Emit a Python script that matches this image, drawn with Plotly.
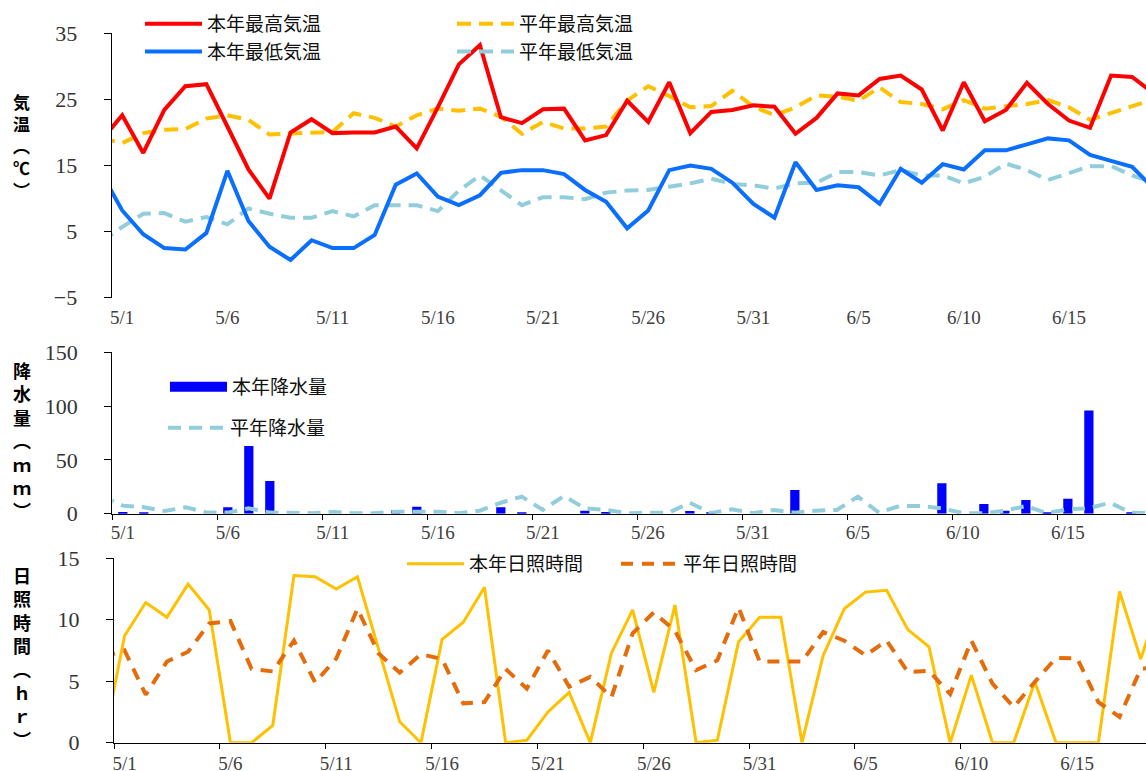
import pandas as pd
import plotly.graph_objects as go

YEAR = 2024
# daily values from 4/30 to 6/19 (4/30 and 6/19 only partly visible at the edges)
days = pd.date_range(f"{YEAR}-04-30", f"{YEAR}-06-19") + pd.Timedelta(hours=12)

high_this = [18.8,
             22.6, 16.9, 23.4, 27.0, 27.3, 20.9, 14.4, 10.0, 20.0, 22.0,
             19.9, 20.0, 20.0, 20.9, 17.6, 23.8, 30.3, 33.2, 22.3, 21.4,
             23.5, 23.6, 18.8, 19.6, 24.8, 21.6, 27.6, 19.9, 23.1, 23.4,
             24.1, 23.9, 19.8, 22.2, 25.9, 25.6, 28.1, 28.6, 26.5, 20.3,
             27.6, 21.7, 23.4, 27.5, 24.3, 21.8, 20.7, 28.6, 28.4, 26.0]
low_this = [13.9,
            8.2, 4.6, 2.5, 2.3, 4.8, 14.2, 6.6, 2.7, 0.7, 3.7,
            2.5, 2.5, 4.5, 12.1, 13.8, 10.3, 9.0, 10.5, 13.9, 14.3,
            14.3, 13.7, 11.3, 9.5, 5.5, 8.2, 14.3, 15.0, 14.5, 12.4,
            9.2, 7.1, 15.5, 11.3, 12.0, 11.7, 9.2, 14.5, 12.4, 15.2,
            14.4, 17.3, 17.3, 18.2, 19.1, 18.8, 16.6, 15.7, 14.8, 11.6]
high_normal = [19.1,
               18.4, 19.9, 20.4, 20.5, 22.1, 22.6, 21.9, 19.7, 19.8, 19.9,
               20.1, 22.9, 22.2, 20.9, 22.6, 23.6, 23.3, 23.6, 22.4, 19.8,
               21.6, 20.6, 20.6, 20.9, 24.8, 27.0, 25.5, 23.8, 24.0, 26.3,
               23.9, 22.6, 23.8, 25.6, 25.4, 24.8, 26.8, 24.6, 24.3, 23.5,
               24.9, 23.6, 24.0, 24.3, 24.9, 23.8, 21.9, 22.9, 23.9, 25.0]
low_normal = [3.5,
              5.7, 7.7, 7.8, 6.5, 7.2, 6.1, 8.5, 7.7, 7.1, 7.1,
              8.1, 7.3, 9.0, 9.0, 9.0, 8.1, 11.2, 13.5, 11.2, 9.0,
              10.2, 10.2, 9.9, 10.9, 11.2, 11.3, 11.8, 12.3, 13.0, 12.2,
              12.0, 11.5, 12.3, 12.4, 14.0, 14.0, 13.5, 14.3, 13.5, 13.5,
              12.3, 13.3, 15.3, 14.3, 12.8, 13.8, 14.9, 14.9, 13.5, 12.4]
precip_this = [0,
               1.5, 1.0, 0, 0, 0, 5.9, 63.0, 30.4, 0, 0,
               0, 0, 0, 3.4, 6.5, 0, 0, 0, 5.9, 1.0,
               0, 0, 2.8, 1.5, 0, 0, 0, 2.5, 1.0, 0,
               0, 0, 22.0, 0, 0, 0, 0, 0, 0, 28.2,
               0, 9.0, 2.8, 12.7, 1.0, 14.0, 95.9, 0, 1.0, 0]
precip_normal = [16.0,
                 7.5, 6.0, 2.5, 6.0, 1.0, 1.0, 5.0, 1.0, 0.5, 0.5,
                 1.6, 0.5, 0.5, 1.8, 1.8, 1.8, 0.5, 2.8, 10.2, 15.9,
                 3.5, 16.5, 5.0, 3.5, 0.5, 0.5, 1.0, 10.2, 0.5, 4.1,
                 0.5, 3.5, 1.0, 2.8, 3.5, 15.9, 1.0, 7.2, 7.2, 5.0,
                 0.5, 0.5, 2.8, 7.2, 0.5, 4.1, 5.0, 10.2, 1.0, 0.5]
sun_this = [0,
            8.7, 11.4, 10.2, 12.9, 10.8, 0, 0, 1.4, 13.6, 13.5,
            12.5, 13.5, 7.7, 1.7, 0, 8.4, 9.8, 12.65, 0, 0.2,
            2.5, 4.1, 0, 7.3, 10.8, 4.1, 11.2, 0, 0.2, 8.2,
            10.2, 10.2, 0, 7.1, 10.9, 12.25, 12.4, 9.2, 7.8, 0,
            5.5, 0, 0, 4.95, 0, 0, 0, 12.3, 6.8, 12.0]
sun_normal = [7.0,
              7.5, 3.9, 6.6, 7.4, 9.7, 9.9, 6.0, 5.8, 8.3, 4.9,
              6.85, 10.9, 7.25, 5.7, 7.2, 6.8, 3.2, 3.3, 6.0, 4.4,
              7.5, 4.55, 5.35, 3.7, 8.9, 10.6, 9.1, 5.9, 6.7, 11.0,
              6.6, 6.6, 6.6, 9.0, 8.3, 7.1, 8.3, 5.75, 5.85, 3.95,
              8.3, 4.8, 2.9, 4.95, 6.9, 6.85, 3.3, 2.1, 6.0, 6.2]

tick_labels = ["5/1", "5/6", "5/11", "5/16", "5/21", "5/26", "5/31", "6/5", "6/10", "6/15"]
temp_ticks = [-5, 5, 15, 25, 35]
precip_ticks = [0, 50, 100, 150]
sun_ticks = [0, 5, 10, 15]

tick_days = [pd.Timestamp(f"{YEAR}/{t}") for t in tick_labels]
tick_noon = [d + pd.Timedelta(hours=12) for d in tick_days]
start = pd.Timestamp(f"{YEAR}-05-01")

W, H = 1146, 771
SERIF = "Liberation Serif"
JP = "Noto Sans CJK JP"

fig = go.Figure()

# --- temperature panel ---
fig.add_trace(go.Scatter(x=days, y=high_normal, name="平年最高気温", mode="lines",
                         line=dict(color="#FFC000", width=4, dash="14px,8px"),
                         xaxis="x", yaxis="y", legend="legend2"))
fig.add_trace(go.Scatter(x=days, y=low_normal, name="平年最低気温", mode="lines",
                         line=dict(color="#92CDDC", width=4, dash="14px,8px"),
                         xaxis="x", yaxis="y", legend="legend2"))
fig.add_trace(go.Scatter(x=days, y=high_this, name="本年最高気温", mode="lines",
                         line=dict(color="#FF0000", width=4),
                         xaxis="x", yaxis="y", legend="legend"))
fig.add_trace(go.Scatter(x=days, y=low_this, name="本年最低気温", mode="lines",
                         line=dict(color="#0A6EFF", width=4),
                         xaxis="x", yaxis="y", legend="legend"))

# --- precipitation panel ---
fig.add_trace(go.Bar(x=days, y=precip_this, name="本年降水量", marker=dict(color="#0000FF", line=dict(width=0)),
                     width=0.44 * 86400000, xaxis="x2", yaxis="y2", showlegend=False))
fig.add_trace(go.Scatter(x=[None], y=[None], name="本年降水量", mode="lines",
                         line=dict(color="#0000FF", width=11), xaxis="x2", yaxis="y2", legend="legend3"))
fig.add_trace(go.Scatter(x=days, y=precip_normal, name="平年降水量", mode="lines",
                         line=dict(color="#92CDDC", width=4, dash="13px,8px"),
                         xaxis="x2", yaxis="y2", legend="legend4"))

# --- sunshine panel ---
fig.add_trace(go.Scatter(x=days, y=sun_this, name="本年日照時間", mode="lines",
                         line=dict(color="#FFC000", width=3),
                         xaxis="x3", yaxis="y3", legend="legend5"))
fig.add_trace(go.Scatter(x=days, y=sun_normal, name="平年日照時間", mode="lines",
                         line=dict(color="#E46C0A", width=4, dash="12px,9px"),
                         xaxis="x3", yaxis="y3", legend="legend5"))

def xrange(ndays):
    return [start, start + pd.Timedelta(days=ndays)]

label_font = dict(family=SERIF, size=19, color="#404040")
ytick_font = dict(family=SERIF, size=22, color="#333333")

common_x = dict(type="date", tickmode="array", tickvals=tick_noon, ticktext=tick_labels,
                tickfont=label_font, showgrid=False, zeroline=False, ticks="", automargin=False)
common_y = dict(showgrid=False, zeroline=False, showline=True, linecolor="black", linewidth=1.3,
                ticks="outside", ticklen=7, tickcolor="black", tickwidth=1.3, tickfont=ytick_font,
                ticklabelstandoff=22, tickmode="array", automargin=False)

legend_common = dict(font=dict(family=JP, size=19, color="#111111"), bgcolor="rgba(0,0,0,0)",
                     borderwidth=0, xanchor="left", yanchor="top", itemwidth=57, tracegroupgap=0)

fig.update_layout(
    width=W, height=H, margin=dict(l=0, r=0, t=0, b=0, autoexpand=False),
    paper_bgcolor="white", plot_bgcolor="white",
    xaxis=dict(common_x, domain=[111.7 / W, 1], anchor="y", range=xrange(49.16), showline=False,
               ticklabelstandoff=6),
    xaxis4=dict(type="date", domain=[111.7 / W, 1], overlaying="x", anchor="free", position=1 - 265 / H,
                range=xrange(49.16), showline=True, linecolor="black", linewidth=1.3,
                ticks="outside", ticklen=5, tickcolor="black", tickwidth=1.3,
                tickmode="array", tickvals=tick_days, showticklabels=False, showgrid=False),
    yaxis=dict(common_y, domain=[1 - 297.7 / H, 1 - 33.3 / H], anchor="x", range=[-5, 35], tickvals=temp_ticks),
    xaxis2=dict(common_x, domain=[112.3 / W, 1], anchor="y2", range=xrange(49.22), showline=True,
                linecolor="black", linewidth=1.3, ticklabelstandoff=1,
                minor=dict(tickmode="array", tickvals=tick_days, ticks="outside", ticklen=5,
                           tickcolor="black", tickwidth=1.3, showgrid=False)),
    yaxis2=dict(common_y, domain=[1 - 513.7 / H, 1 - 352.3 / H], anchor="x2", range=[0, 150], tickvals=precip_ticks),
    xaxis3=dict(common_x, domain=[114 / W, 1], anchor="y3", range=xrange(48.75), showline=True,
                linecolor="black", linewidth=1.3, ticklabelstandoff=3,
                minor=dict(tickmode="array", tickvals=tick_days, ticks="outside", ticklen=5,
                           tickcolor="black", tickwidth=1.3, showgrid=False)),
    yaxis3=dict(common_y, domain=[1 - 742.7 / H, 1 - 558.3 / H], anchor="x3", range=[0, 15], tickvals=sun_ticks),
    legend=dict(legend_common, x=140 / W, y=1 - 5 / H),
    legend2=dict(legend_common, x=452 / W, y=1 - 5 / H),
    legend3=dict(legend_common, x=165 / W, y=1 - 368 / H),
    legend4=dict(legend_common, x=163 / W, y=1 - 409 / H),
    legend5=dict(legend_common, x=402 / W, y=1 - 545 / H, orientation="h",
                 entrywidth=142, entrywidthmode="pixels"),
    barmode="overlay",
)

titles = [("気<br>温<br>︵<br>℃<br>︶", 145, 17),
          ("降<br>水<br>量<br>︵<br>ｍ<br>ｍ<br>︶", 440, 18),
          ("日<br>照<br>時<br>間<br>︵<br>ｈ<br>ｒ<br>︶", 657, 18)]
for text, yc, size in titles:
    fig.add_annotation(text=f"<b>{text}</b>", xref="paper", yref="paper", x=21.7 / W, y=1 - yc / H,
                       xanchor="center", yanchor="middle", showarrow=False,
                       font=dict(family=JP, size=size, color="black"))

fig.write_html("out.html", config={"responsive": False, "displayModeBar": False},
               post_script="document.body.style.margin='0px';document.body.style.overflow='hidden';")
